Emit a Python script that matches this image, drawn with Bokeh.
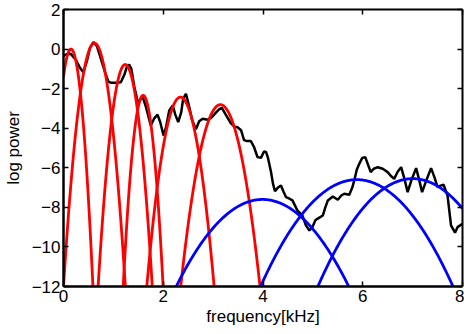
import numpy as np
from bokeh.plotting import figure
from bokeh.models import Range1d, LinearAxis, FixedTicker, CustomLabelingPolicy
from bokeh.embed import file_html
from bokeh.resources import INLINE

# ---- data ----
spec_khz = [0.0, 0.07, 0.146, 0.25, 0.33, 0.40, 0.47, 0.53, 0.60, 0.67, 0.75, 0.83, 0.90, 0.95,
            1.05, 1.15, 1.22, 1.27, 1.316, 1.36, 1.42, 1.497, 1.54, 1.585, 1.65, 1.75, 1.82,
            1.885, 1.94, 2.006, 2.06, 2.12, 2.19, 2.24, 2.30, 2.36, 2.40, 2.455, 2.52, 2.58,
            2.655, 2.72, 2.79, 2.89, 2.97, 3.06, 3.12, 3.175, 3.25, 3.356, 3.43, 3.49, 3.56,
            3.62, 3.68, 3.757, 3.82, 3.89, 3.96, 4.02, 4.06, 4.10, 4.16, 4.20, 4.24, 4.30,
            4.36, 4.41, 4.46, 4.52, 4.59, 4.64, 4.69, 4.79, 4.86, 4.93, 4.99, 5.05, 5.09,
            5.20, 5.25, 5.30, 5.40, 5.50, 5.57, 5.63, 5.73, 5.79, 5.83, 5.88, 5.93, 5.99,
            6.05, 6.10, 6.16, 6.22, 6.30, 6.40, 6.50, 6.56, 6.63, 6.70, 6.77, 6.84, 6.90,
            6.98, 7.07, 7.13, 7.19, 7.28, 7.37, 7.44, 7.50, 7.56, 7.62, 7.70, 7.77, 7.85,
            7.90, 8.0]
spec_logp = [-0.35, -0.25, -0.24, -0.55, -0.95, -1.17, -0.6, 0.05, 0.35, 0.15, -0.5, -1.15,
             -1.65, -1.70, -1.70, -1.68, -1.3, -0.9, -0.79, -1.0, -1.9, -2.77, -2.55, -2.40,
             -2.9, -3.86, -3.5, -3.31, -3.7, -4.37, -3.9, -3.1, -2.85, -3.3, -3.69, -3.2,
             -2.5, -2.26, -2.9, -3.6, -4.05, -3.65, -3.52, -3.57, -3.45, -3.2, -3.05, -2.97,
             -3.3, -3.75, -3.92, -3.95, -4.1, -4.6, -4.65, -4.65, -4.95, -5.46, -5.5, -5.18,
             -5.2, -5.5, -6.2, -6.8, -7.18, -7.0, -6.9, -7.2, -7.48, -7.55, -7.65, -7.9,
             -8.16, -8.41, -8.91, -9.17, -9.0, -8.65, -8.58, -8.41, -8.0, -7.65, -7.45,
             -7.62, -7.4, -7.31, -7.36, -7.0, -6.64, -6.1, -5.8, -5.5, -5.46, -5.8, -6.22,
             -6.05, -5.97, -6.05, -6.22, -6.4, -6.56, -6.2, -5.97, -6.6, -7.23, -6.6, -6.02,
             -6.6, -7.23, -6.6, -6.02, -6.5, -6.98, -6.9, -6.86, -7.40, -8.91, -9.28, -9.0,
             -8.83]

# red peaks: centre (kHz), peak log power, half-width where curve reaches -12
red_center = [0.15, 0.62, 1.237, 1.597, 2.345, 3.145]
red_peak = [0.0, 0.30, -0.78, -2.34, -2.43, -2.81]
red_halfwidth = [0.44, 0.62, 0.543, 0.40, 0.675, 0.795]

# blue peaks
blue_center = [3.99, 5.88, 7.0]
blue_peak = [-7.6, -6.6, -6.55]
blue_halfwidth = [1.73, 1.93, 1.90]

x_ticks = [0, 2, 4, 6, 8]
y_ticks = [-12, -10, -8, -6, -4, -2, 0, 2]
FLOOR = -12.0
XMIN, XMAX = 0.0, 8.0

FONT = "Liberation Sans"
FS = "17px"

p = figure(width=464, height=334, output_backend="svg", toolbar_location=None,
           x_range=Range1d(XMIN, XMAX), y_range=Range1d(FLOOR, 2),
           min_border_left=63, min_border_right=2, min_border_top=9, min_border_bottom=48,
           x_axis_label="frequency[kHz]", y_axis_label="log power")
p.background_fill_color = "white"
p.border_fill_color = "white"
p.outline_line_color = None
p.xgrid.visible = False
p.ygrid.visible = False


def minus(v):
    return str(v).replace("-", "\u2212")


for ax in (p.xaxis[0], p.yaxis[0]):
    ax.major_label_text_font = FONT
    ax.major_label_text_font_size = FS
    ax.major_label_text_color = "black"
    ax.axis_label_text_font = FONT
    ax.axis_label_text_font_size = FS
    ax.axis_label_text_font_style = "normal"
    ax.axis_label_text_color = "black"
    ax.major_tick_in = 5
    ax.major_tick_out = 0
    ax.minor_tick_line_color = None
    ax.axis_line_width = 2.5
    ax.major_tick_line_width = 1.5
    ax.major_label_standoff = 3
    ax.axis_label_standoff = 2

p.xaxis[0].ticker = FixedTicker(ticks=x_ticks)
p.yaxis[0].ticker = FixedTicker(ticks=y_ticks)
p.xaxis[0].major_label_overrides = {t: minus(t) for t in x_ticks}
p.yaxis[0].major_label_overrides = {t: minus(t) for t in y_ticks}
p.yaxis[0].axis_label_standoff = 6

# top and right frame axes: ticks only, no labels
for loc, ticks in (("above", x_ticks), ("right", y_ticks)):
    ax = LinearAxis(ticker=FixedTicker(ticks=ticks))
    ax.major_label_policy = CustomLabelingPolicy(code="return")
    ax.major_label_text_font_size = "0px"
    ax.major_label_standoff = 0
    ax.major_tick_in = 5
    ax.major_tick_out = 0
    ax.minor_tick_line_color = None
    ax.axis_line_width = 2
    ax.major_tick_line_width = 1.5
    p.add_layout(ax, loc)

# spectrum
p.line(spec_khz, spec_logp, line_color="black", line_width=2.5)


def parabola(c, pk, w):
    lo = max(c - w, XMIN)
    hi = min(c + w, XMAX)
    xs = np.linspace(lo, hi, 200)
    ys = pk - (pk - FLOOR) * ((xs - c) / w) ** 2
    return xs, ys


for c, pk, w in zip(red_center, red_peak, red_halfwidth):
    xs, ys = parabola(c, pk, w)
    p.line(xs, ys, line_color="#ff0000", line_width=2.8)

for c, pk, w in zip(blue_center, blue_peak, blue_halfwidth):
    xs, ys = parabola(c, pk, w)
    p.line(xs, ys, line_color="#0000ff", line_width=2.8)

open("out.html", "w").write(file_html(p, INLINE))
